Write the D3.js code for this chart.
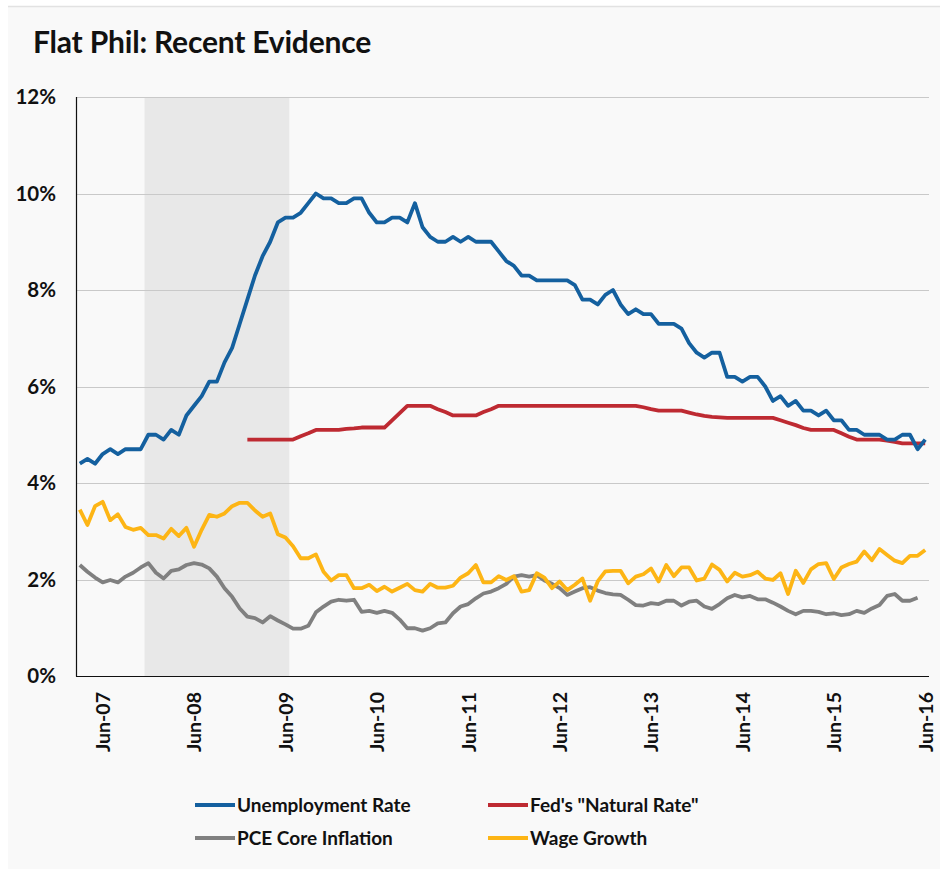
<!DOCTYPE html>
<html><head><meta charset="utf-8">
<script src="https://cdn.jsdelivr.net/npm/d3@7"></script>
<style>
body{margin:0;background:#ffffff;}
svg{display:block;font-family:Lato,"Noto Sans",sans-serif;}
</style>
</head><body><svg id="c" width="940" height="869"></svg>
<script>
// ---- DATA (monthly, Mar 2007 -> Jun 2016) ----
const firstMonth = [2007, 2];   // March 2007 (month index 0-based)
const monthCount = 112;

const unemployment = [
  4.4,4.5,4.4,4.6,4.7,4.6,4.7,4.7,4.7,5.0,
  5.0,4.9,5.1,5.0,5.4,5.6,5.8,6.1,6.1,6.5,6.8,7.3,
  7.8,8.3,8.7,9.0,9.4,9.5,9.5,9.6,9.8,10.0,9.9,9.9,
  9.8,9.8,9.9,9.9,9.6,9.4,9.4,9.5,9.5,9.4,9.8,9.3,
  9.1,9.0,9.0,9.1,9.0,9.1,9.0,9.0,9.0,8.8,8.6,8.5,
  8.3,8.3,8.2,8.2,8.2,8.2,8.2,8.1,7.8,7.8,7.7,7.9,
  8.0,7.7,7.5,7.6,7.5,7.5,7.3,7.3,7.3,7.2,6.9,6.7,
  6.6,6.7,6.7,6.2,6.2,6.1,6.2,6.2,6.0,5.7,5.8,5.6,
  5.7,5.5,5.5,5.4,5.5,5.3,5.3,5.1,5.1,5.0,5.0,5.0,
  4.9,4.9,5.0,5.0,4.7,4.9
];

const naturalRate = [
  null,null,null,null,null,null,null,null,null,null,
  null,null,null,null,null,null,null,null,null,null,null,null,
  4.9,4.9,4.9,4.9,4.9,4.9,4.9,
  4.97,5.03,5.1,5.1,5.1,5.1,5.12,5.13,5.15,5.15,5.15,5.15,
  5.3,5.45,5.6,5.6,5.6,5.6,5.53,5.47,5.4,5.4,5.4,5.4,
  5.47,5.53,5.6,5.6,5.6,5.6,5.6,5.6,5.6,5.6,5.6,5.6,5.6,5.6,5.6,5.6,5.6,5.6,5.6,5.6,5.6,
  5.57,5.53,5.5,5.5,5.5,5.5,5.46,5.42,5.39,5.37,5.36,5.35,
  5.35,5.35,5.35,5.35,5.35,5.35,5.3,5.25,5.2,5.14,5.1,5.1,5.1,5.1,
  5.03,4.96,4.9,4.9,4.9,4.9,4.88,4.85,4.82,4.82,4.82,4.82
];

const pceCore = [
  2.30,2.16,2.04,1.94,1.99,1.94,2.06,2.14,2.25,2.34,
  2.14,2.02,2.18,2.21,2.30,2.34,2.31,2.23,2.06,1.82,
  1.64,1.40,1.23,1.20,1.11,1.24,1.15,1.07,0.98,0.98,
  1.04,1.32,1.44,1.54,1.58,1.56,1.58,1.33,1.35,1.31,
  1.35,1.31,1.17,0.99,0.99,0.94,0.99,1.09,1.11,1.30,
  1.44,1.49,1.61,1.71,1.75,1.82,1.91,2.06,2.09,2.06,
  2.09,1.98,1.91,1.82,1.68,1.75,1.82,1.84,1.77,1.72,
  1.69,1.68,1.58,1.47,1.46,1.51,1.49,1.56,1.56,1.46,
  1.54,1.56,1.44,1.39,1.49,1.61,1.68,1.63,1.66,1.59,
  1.59,1.52,1.44,1.35,1.28,1.35,1.35,1.33,1.28,1.30,
  1.26,1.28,1.35,1.31,1.40,1.47,1.66,1.70,1.56,1.56,1.62
];

const wageGrowth = [
  3.45,3.13,3.52,3.61,3.23,3.35,3.09,3.03,3.07,2.92,
  2.92,2.85,3.05,2.90,3.07,2.68,3.03,3.34,3.30,3.37,
  3.52,3.59,3.59,3.43,3.30,3.37,2.94,2.87,2.69,2.44,
  2.44,2.52,2.16,1.98,2.09,2.09,1.82,1.82,1.89,1.76,
  1.85,1.75,1.83,1.91,1.78,1.75,1.91,1.83,1.83,1.87,
  2.04,2.13,2.30,1.94,1.94,2.07,1.99,2.07,1.75,1.78,
  2.13,2.04,1.82,1.96,1.78,1.89,2.02,1.56,1.96,2.17,
  2.18,2.18,1.92,2.06,2.11,2.23,1.96,2.30,2.07,2.25,
  2.25,1.98,2.02,2.31,2.20,1.96,2.14,2.06,2.09,2.16,
  2.02,1.99,2.13,1.70,2.18,1.93,2.21,2.32,2.34,2.01,
  2.25,2.32,2.37,2.58,2.40,2.63,2.51,2.39,2.34,2.49,2.49,2.61
];

const tickLabels = ["Jun-07","Jun-08","Jun-09","Jun-10","Jun-11","Jun-12","Jun-13","Jun-14","Jun-15","Jun-16"];
const yTicks = [0,2,4,6,8,10,12];
const recessionStart = 9;   // Dec 2007 (month index)
const recessionEnd = 27;    // Jun 2009 (month index)
const seriesNames = ["Unemployment Rate","Fed's \"Natural Rate\"","PCE Core Inflation","Wage Growth"];
const seriesColors = ["#14609f","#be2a32","#808080","#fdb515"];

// ---- CHART ----
const svg = d3.select("#c");
const W = 940, H = 869;
const m = {left:76, right:929, top:97, bottom:676};

svg.append("rect").attr("x",0).attr("y",0).attr("width",W).attr("height",H).attr("fill","#ffffff");
svg.append("rect").attr("x",8).attr("y",6).attr("width",W-8).attr("height",H-6).attr("fill","#f9f9f9");
svg.append("line").attr("x1",8).attr("x2",W).attr("y1",6.5).attr("y2",6.5).attr("stroke","#e2e2e2").attr("stroke-width",1.5);

const months = d3.range(monthCount);
const x = d3.scaleBand().domain(months).range([m.left, m.right]).padding(0);
const y = d3.scaleLinear().domain([0,12]).range([m.bottom, m.top]);
const cx = i => x(i) + x.bandwidth()/2;

// recession shading
svg.append("rect")
  .attr("x", x(recessionStart)).attr("y", m.top)
  .attr("width", x(recessionEnd) + x.bandwidth() - x(recessionStart))
  .attr("height", m.bottom - m.top)
  .attr("fill","#e8e8e8");

// gridlines
svg.append("g").selectAll("line").data(yTicks.filter(d=>d>0)).join("line")
  .attr("x1", m.left).attr("x2", m.right)
  .attr("y1", d=>Math.round(y(d))+0.5).attr("y2", d=>Math.round(y(d))+0.5)
  .attr("stroke","#c9c9c9").attr("stroke-width",1);

// y axis labels
const yAxis = d3.axisLeft(y).tickValues(yTicks).tickFormat(d=>d+"%").tickSize(0).tickPadding(20);
const gy = svg.append("g").attr("transform",`translate(${m.left},0)`).call(yAxis);
gy.select(".domain").remove();
gy.selectAll("text").attr("font-size",20.5).attr("font-weight",700).attr("fill","#111").attr("font-family","Lato");

// x axis
const juneIdx = months.filter(i => (i + firstMonth[1]) % 12 === 5);
const xAxis = d3.axisBottom(x).tickValues(juneIdx).tickFormat((d,i)=>tickLabels[i]).tickSize(0);
const gx = svg.append("g").attr("transform",`translate(0,${m.bottom})`).call(xAxis);
gx.select(".domain").remove();
gx.selectAll("text")
  .attr("transform","rotate(-90)")
  .attr("text-anchor","end")
  .attr("x",-16).attr("y",0).attr("dy","0.38em")
  .attr("font-size",19.5).attr("font-weight",700).attr("fill","#111").attr("font-family","Lato");

// axis lines
svg.append("line").attr("x1",m.left+0.5).attr("x2",m.left+0.5).attr("y1",m.top).attr("y2",m.bottom+0.5).attr("stroke","#111").attr("stroke-width",1.2);
svg.append("line").attr("x1",m.left).attr("x2",m.right).attr("y1",m.bottom+0.5).attr("y2",m.bottom+0.5).attr("stroke","#111").attr("stroke-width",1.2);

// lines
const line = d3.line().defined(d=>d.v!=null).x(d=>cx(d.i)).y(d=>y(d.v));
const seriesData = [unemployment, naturalRate, pceCore, wageGrowth];
const drawOrder = [2,3,1,0];
drawOrder.forEach(k=>{
  const pts = seriesData[k].map((v,i)=>({i, v}));
  svg.append("path").datum(pts).attr("d",line)
    .attr("fill","none").attr("stroke",seriesColors[k]).attr("stroke-width",3.8)
    .attr("stroke-linejoin","round").attr("stroke-linecap","butt");
});

// title
svg.append("text").attr("x",33).attr("y",53).text("Flat Phil: Recent Evidence")
  .attr("font-size",30).attr("font-weight",700).attr("fill","#111").attr("letter-spacing",-0.2);

// legend
const legPos = [[195,805],[488,805],[195,838],[488,838]];
seriesNames.forEach((name,k)=>{
  const [lx,ly] = legPos[k];
  svg.append("line").attr("x1",lx).attr("x2",lx+40).attr("y1",ly).attr("y2",ly)
    .attr("stroke",seriesColors[k]).attr("stroke-width",3.8);
  svg.append("text").attr("x",lx+42).attr("y",ly).attr("dy","0.36em").text(name)
    .attr("font-size",19).attr("font-weight",700).attr("fill","#111");
});
</script>
</body></html>
